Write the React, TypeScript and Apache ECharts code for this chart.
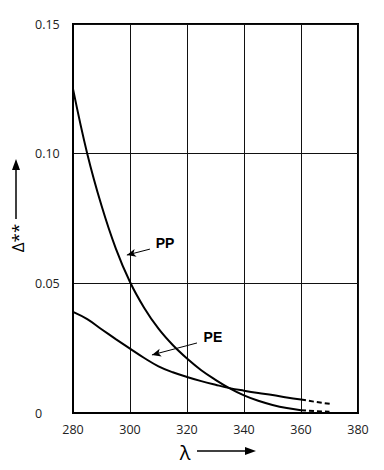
import React, { useEffect, useRef } from "react";
import * as echarts from "echarts";

// Wavelength axis (nm)
const xTicks = [280, 300, 320, 340, 360, 380];
const yTicks = [0, 0.05, 0.1, 0.15];

// PP curve (solid part)
const ppX = [280, 285, 290, 295, 300, 305, 310, 315, 320, 325, 330, 335, 340, 345, 350, 355, 360];
const ppY = [0.125, 0.1, 0.08, 0.0635, 0.0505, 0.0405, 0.0325, 0.0262, 0.021, 0.0165, 0.0128, 0.0095, 0.0068, 0.0047, 0.0031, 0.0019, 0.0011];
// PP dashed extension
const ppDashX = [360, 365, 370];
const ppDashY = [0.0011, 0.0007, 0.0005];

// PE curve (solid part)
const peX = [280, 285, 290, 295, 300, 305, 310, 315, 320, 325, 330, 335, 340, 345, 350, 355, 360];
const peY = [0.039, 0.0362, 0.0323, 0.0285, 0.0248, 0.0212, 0.018, 0.0157, 0.0139, 0.0123, 0.0109, 0.0096, 0.0086, 0.0077, 0.0069, 0.006, 0.0052];
// PE dashed extension
const peDashX = [360, 365, 371];
const peDashY = [0.0052, 0.0043, 0.0034];

// Annotation positions in data coordinates
const ppLabel = { text: "PP", at: [312.3, 0.0656], from: [307.0, 0.0632], to: [298.9, 0.0609] };
const peLabel = { text: "PE", at: [329.1, 0.0293], from: [323.5, 0.027], to: [307.7, 0.0224] };

const zip = (xs: number[], ys: number[]) => xs.map((x, i) => [x, ys[i]]);

export default function App() {
  const ref = useRef<HTMLDivElement>(null);
  useEffect(() => {
    if (!ref.current) return;
    const chart = echarts.init(ref.current, undefined, { renderer: "svg" });
    const lineBase = { type: "line", showSymbol: false, smooth: 0.4, silent: true, lineStyle: { color: "#000", width: 2 } };
    const arrowLine = (a: any) => ({
      silent: true,
      symbol: ["none", "arrow"],
      symbolSize: [6, 9],
      label: { show: false },
      lineStyle: { color: "#000", width: 1, type: "solid" },
      data: [[{ coord: a.from }, { coord: a.to }]],
    });
    chart.setOption({
      animation: false,
      grid: { left: 73, top: 24, right: 26, bottom: 57, show: true, borderColor: "#000", borderWidth: 2 },
      xAxis: {
        type: "value",
        min: 280,
        max: 380,
        interval: 20,
        axisLine: { show: true, lineStyle: { color: "#000", width: 2 } },
        axisTick: { show: false },
        splitLine: { show: true, lineStyle: { color: "#111", width: 1 } },
        axisLabel: { margin: 10, fontSize: 12.5, color: "#222", fontFamily: "Open Sans", customValues: xTicks },
      },
      yAxis: {
        type: "value",
        min: 0,
        max: 0.15,
        interval: 0.05,
        axisLine: { show: true, lineStyle: { color: "#000", width: 2 } },
        axisTick: { show: false },
        splitLine: { show: true, lineStyle: { color: "#111", width: 1 } },
        axisLabel: {
          margin: 38,
          align: "left",
          fontSize: 12.5,
          color: "#222",
          fontFamily: "Open Sans",
          padding: [0, 0, 9, 0],
          formatter: (v: number) => {
            const t = yTicks.find((k) => Math.abs(k - v) < 1e-9);
            if (t === undefined) return "";
            return t === 0 ? "0" : t.toFixed(2);
          },
        },
      },
      series: [
        { ...lineBase, data: zip(ppX, ppY), markLine: arrowLine(ppLabel) },
        { ...lineBase, data: zip(ppDashX, ppDashY), smooth: false, lineStyle: { color: "#000", width: 2, type: [5, 3] } },
        { ...lineBase, data: zip(peX, peY), markLine: arrowLine(peLabel) },
        { ...lineBase, data: zip(peDashX, peDashY), smooth: false, lineStyle: { color: "#000", width: 2, type: [5, 3] } },
      ],
    });
    const pp = chart.convertToPixel({ gridIndex: 0 }, ppLabel.at) as number[];
    const pe = chart.convertToPixel({ gridIndex: 0 }, peLabel.at) as number[];
    const labelStyle = { fill: "#000", fontSize: 14, fontFamily: "Liberation Sans, Arial", fontWeight: "bold", align: "center", verticalAlign: "middle" };
    chart.setOption({
      graphic: [
        { type: "text", x: pp[0], y: pp[1], style: { ...labelStyle, text: ppLabel.text } },
        { type: "text", x: pe[0], y: pe[1], style: { ...labelStyle, text: peLabel.text } },
        // x axis name with arrow
        { type: "text", x: 185, y: 452, style: { text: "λ", fill: "#000", fontSize: 20, fontFamily: "Open Sans", align: "center", verticalAlign: "middle" } },
        { type: "line", shape: { x1: 197, y1: 451, x2: 248, y2: 451 }, style: { stroke: "#000", lineWidth: 1.5 } },
        { type: "polygon", shape: { points: [[256, 451], [245, 447], [245, 455]] }, style: { fill: "#000" } },
        // y axis name with arrow
        { type: "text", x: 17, y: 238, rotation: Math.PI / 2, style: { text: "Δ**", fill: "#000", fontSize: 17, fontFamily: "Open Sans", align: "center", verticalAlign: "middle" } },
        { type: "line", shape: { x1: 16, y1: 219, x2: 16, y2: 167 }, style: { stroke: "#000", lineWidth: 1.5 } },
        { type: "polygon", shape: { points: [[16, 159], [12, 170], [20, 170]] }, style: { fill: "#000" } },
      ],
    });
    return () => chart.dispose();
  }, []);
  return <div ref={ref} style={{ width: 384, height: 470, marginLeft: -8, marginTop: -8 }} />;
}
